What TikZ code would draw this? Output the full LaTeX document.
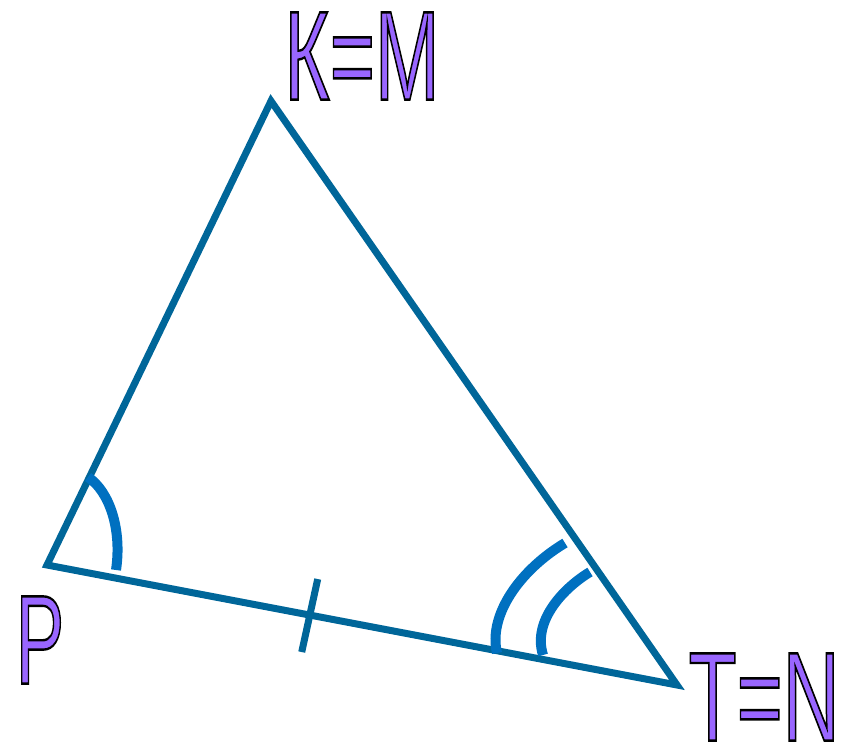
\documentclass[tikz,border=0pt]{standalone}
\usepackage{fontspec}
\setmainfont{Liberation Sans}
\usepackage{graphicx}
\usetikzlibrary{calc}
\definecolor{sideblue}{HTML}{006699}
\definecolor{arcblue}{HTML}{0070C0}
\definecolor{lblpurple}{HTML}{9966FF}
\newcommand{\outlined}[1]{\special{pdf:code 2 Tr 2.4 w 0 0 0 RG}#1\special{pdf:code 0 Tr}}

\begin{document}
\begin{tikzpicture}[
  x=1pt, y=-1pt,
  side/.style={sideblue, line width=7pt},
  angarc/.style={arcblue, line width=10pt},
  hatch/.style={sideblue, line width=7pt},
  lbl/.style={inner sep=0pt, text=lblpurple, font=\fontsize{127}{127}\selectfont}
]
\useasboundingbox (0,0) rectangle (842,749);
\coordinate (M) at (271,101);
\coordinate (P) at (47,565);
\coordinate (N) at (677,685);

\draw[side] (P) -- (M) -- (N) -- cycle;

\path (P) -- (N) coordinate[pos=0.417] (hc);
\draw[hatch] ($(hc)+(8,-36)$) -- ($(hc)+(-8,37)$);

\draw[angarc] (88,477) .. controls (110,492) and (122,530) .. (116,570);
\draw[angarc] (565,543) .. controls (520,570) and (488,615) .. (497,653);
\draw[angarc] (590,572) .. controls (565,587) and (532,620) .. (543,655);

\node[lbl] (lblM) at (362,56) {\scalebox{0.61}[1]{\outlined{К=М}}};
\node[lbl] (lblP) at (40,640) {\scalebox{0.57}[1]{\outlined{Р}}};
\node[lbl] (lblN) at (764,697) {\scalebox{0.62}[1]{\outlined{Т=N}}};
\end{tikzpicture}
\end{document}
